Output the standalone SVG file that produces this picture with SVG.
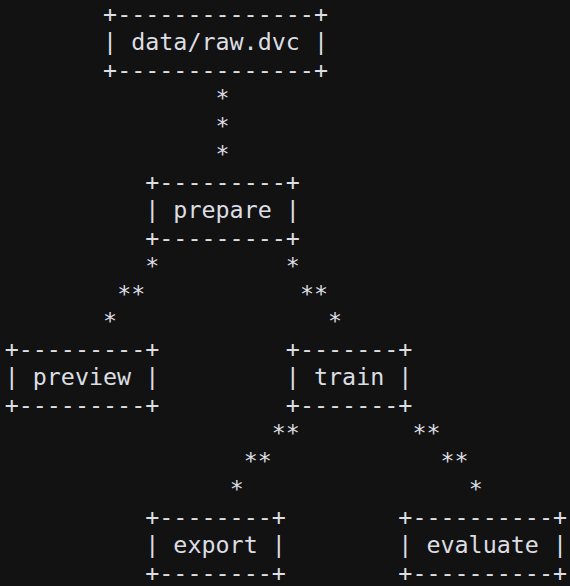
<svg xmlns="http://www.w3.org/2000/svg" width="570" height="586" viewBox="0 0 570 586">
<style>
text{font-family:"DejaVu Sans Mono","Liberation Mono",monospace;font-size:23.35px;fill:#dcdee3;white-space:pre}
</style>
<rect width="570" height="586" fill="#121212"/>
<g id="node-data-raw">
<text x="103.09" y="22">+--------------+</text>
<text x="103.09" y="49.95">| data/raw.dvc |</text>
<text x="103.09" y="77.9">+--------------+</text>
</g>
<g id="node-prepare">
<text x="145.27" y="189.7">+---------+</text>
<text x="145.27" y="217.65">| prepare |</text>
<text x="145.27" y="245.6">+---------+</text>
</g>
<g id="node-preview">
<text x="4.67" y="357.4">+---------+</text>
<text x="4.67" y="385.35">| preview |</text>
<text x="4.67" y="413.3">+---------+</text>
</g>
<g id="node-train">
<text x="285.87" y="357.4">+-------+</text>
<text x="285.87" y="385.35">| train |</text>
<text x="285.87" y="413.3">+-------+</text>
</g>
<g id="node-export">
<text x="145.27" y="525.1">+--------+</text>
<text x="145.27" y="553.05">| export |</text>
<text x="145.27" y="581">+--------+</text>
</g>
<g id="node-evaluate">
<text x="398.35" y="525.1">+----------+</text>
<text x="398.35" y="553.05">| evaluate |</text>
<text x="398.35" y="581">+----------+</text>
</g>
<g id="connectors">
<text x="215.57" y="105.85">*</text>
<text x="215.57" y="133.8">*</text>
<text x="215.57" y="161.75">*</text>
<text x="145.27" y="273.55">*</text>
<text x="117.15" y="301.5">**</text>
<text x="103.09" y="329.45">*</text>
<text x="285.87" y="273.55">*</text>
<text x="299.93" y="301.5">**</text>
<text x="328.05" y="329.45">*</text>
<text x="271.81" y="441.25">**</text>
<text x="243.69" y="469.2">**</text>
<text x="229.63" y="497.15">*</text>
<text x="412.41" y="441.25">**</text>
<text x="440.53" y="469.2">**</text>
<text x="468.65" y="497.15">*</text>
</g>
</svg>
